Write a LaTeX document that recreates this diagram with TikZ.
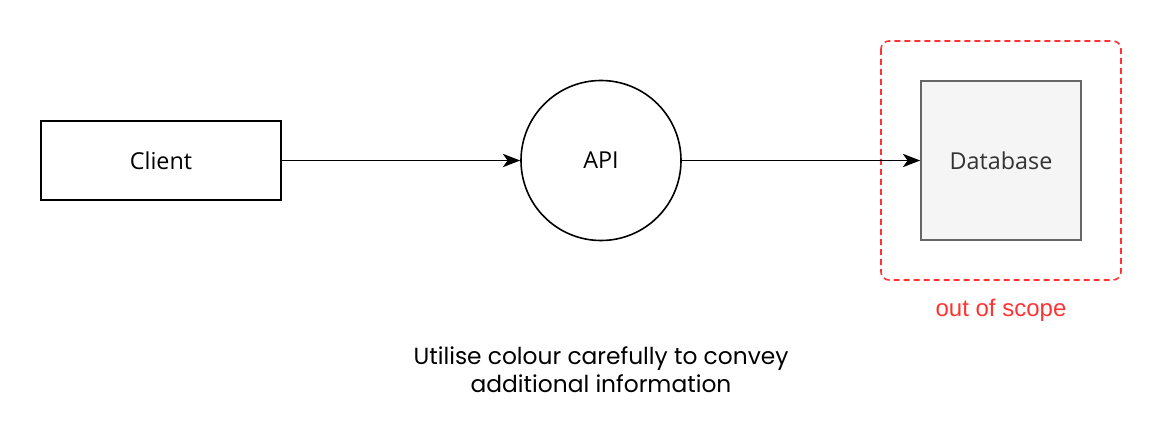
\documentclass[tikz,border=0pt]{standalone}
\usepackage{fontspec}
\setmainfont{Open Sans}
\newfontfamily\hand{Poppins}
\newfontfamily\helv{Liberation Sans}
\usetikzlibrary{arrows.meta}
\definecolor{scopered}{HTML}{FF3333}
\definecolor{dbfill}{HTML}{F5F5F5}
\definecolor{dbline}{HTML}{666666}
\definecolor{dbtext}{HTML}{333333}
\begin{document}
\begin{tikzpicture}[x=0.75pt,y=-0.75pt,
  box/.style={draw=black,line width=1.2pt,minimum width=180pt,minimum height=59.25pt,inner sep=0pt,font=\fontsize{17.5}{20}\selectfont},
  circ/.style={draw=black,circle,line width=1.2pt,minimum size=120pt,inner sep=0pt,font=\fontsize{17.5}{20}\selectfont},
  dbbox/.style={draw=dbline,fill=dbfill,line width=1.2pt,minimum width=120pt,minimum height=119.25pt,inner sep=0pt,text=dbtext,font=\fontsize{17.5}{20}\selectfont},
  conn/.style={line width=1.2pt,-{Stealth[length=13pt,width=10pt,inset=3.5pt]}},
  scopebox/.style={draw=scopered,dashed,dash pattern=on 4.5pt off 3pt,line width=1.2pt,rounded corners=6pt}
]
\useasboundingbox (0,0) rectangle (1164,442);
\node[box] (client) at (161,160.5) {Client};
\node[circ] (api) at (601,160.5) {API};
\node[dbbox] (db) at (1001,160.5) {Database};
\draw[scopebox] (881,41) rectangle (1121,280);
\node[text=scopered,font=\helv\fontsize{18}{20}\selectfont] (scope) at (1001,310) {out of scope};
\draw[conn] (client) -- (api);
\draw[conn] (api) -- (db);
\node[align=center,font=\hand\fontsize{17.5}{21}\selectfont] (note) at (601,370) {Utilise colour carefully to convey\\additional information};
\end{tikzpicture}
\end{document}
